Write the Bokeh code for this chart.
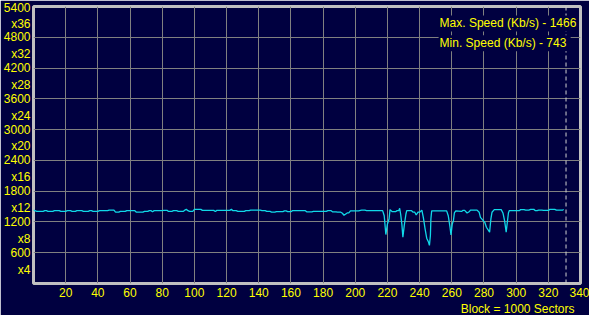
from bokeh.plotting import figure
from bokeh.models import FixedTicker, Span, Label, Title, Range1d
from bokeh.embed import file_html
from bokeh.resources import INLINE

# ---- data ----
sectors = [0, 2, 6, 7, 8, 9, 12, 13, 16, 17, 20, 21, 23, 24, 26, 27, 30, 31, 34, 35, 36, 37, 40, 41, 46,
           47, 50, 51, 53, 54, 57, 58, 63, 64, 68, 69, 71, 72, 73, 74, 75, 80, 81, 83, 84, 86, 87, 89,
           90, 93, 94, 95, 96, 97, 99, 100, 104, 105, 112, 113, 114, 122, 123, 124, 126, 127, 131, 132,
           134, 135, 141, 142, 144, 145, 147, 148, 150, 151, 155, 156, 157, 158, 160, 161, 169, 170, 173,
           174, 182, 183, 185, 186, 188, 189, 191, 192, 193, 195, 196, 197, 202, 204, 206, 207, 217,
           218, 219, 220, 221, 221.6, 223, 225, 226, 227, 227.6, 228.2, 229, 229.6, 230.5, 231.5, 232,
           235, 236, 237, 237.9, 239, 240, 241.4, 242.3, 243.4, 244.4, 245.5, 246.1, 246.7, 247, 247.5,
           256.8, 257.8, 258.9, 259.5, 260.3, 261, 261.6, 262.5, 266, 267, 268, 269.5, 271, 271.6, 275.7,
           277, 277.8, 280.5, 281.5, 283.5, 284.3, 285, 286.4, 290.7, 291.8, 292.8, 293.8, 294.4, 295.2,
           295.7, 301.9, 302.8, 304.9, 305.9, 307.9, 309, 311, 312, 313, 314, 316, 317, 320, 321, 324,
           325, 329, 329.5]
speed = [1430, 1405, 1405, 1420, 1420, 1405, 1405, 1420, 1420, 1405, 1405, 1420, 1420, 1405, 1405, 1420,
         1420, 1405, 1405, 1420, 1420, 1405, 1405, 1420, 1420,
         1430, 1430, 1390, 1390, 1405, 1405, 1420, 1420, 1390, 1390, 1405, 1405, 1420, 1420, 1400, 1420,
         1420, 1425, 1425, 1405, 1405, 1420, 1420,
         1405, 1405, 1430, 1445, 1420, 1405, 1405, 1445, 1445, 1425, 1425, 1405, 1425, 1425, 1445, 1420,
         1420, 1405, 1405, 1420,
         1420, 1430, 1430, 1420, 1420, 1405, 1405, 1390, 1390, 1400, 1400, 1415, 1415, 1400, 1400, 1420,
         1420, 1395, 1395,
         1405, 1405, 1420, 1420, 1395, 1395, 1390, 1390, 1370, 1330, 1375, 1375, 1415, 1415, 1430, 1430,
         1420, 1420,
         1322, 954, 1161, 1258, 1440, 1400, 1400, 1420, 1420, 1466, 1355, 1142, 903, 1142, 1355, 1420,
         1420, 1390, 1390, 1335, 1390, 1390, 1430, 1290, 1064, 884, 807, 743, 935, 1258, 1415,
         1415, 1322, 1097, 948, 1161, 1225, 1375, 1415, 1405, 1425, 1425, 1374, 1405, 1430, 1430,
         1390, 1290, 1193, 1097, 1000, 1258, 1390, 1440, 1440, 1375, 1225, 1000, 1161, 1375,
         1420, 1420, 1440, 1440, 1430, 1430, 1445, 1445, 1420, 1420, 1430, 1430, 1425, 1425, 1445, 1445,
         1430, 1430, 1445]

x_ticks = [20, 40, 60, 80, 100, 120, 140, 160, 180, 200, 220, 240, 260, 280, 300, 320, 340]
y_ticks = [600, 1200, 1800, 2400, 3000, 3600, 4200, 4800, 5400]
y_mult = ["x4", "x8", "x12", "x16", "x20", "x24", "x28", "x32", "x36"]
end_marker = 331
max_text = "Max. Speed (Kb/s) - 1466"
min_text = "Min.  Speed (Kb/s) - 743"
block_text = "Block = 1000 Sectors"

BG = "#000040"
YEL = "#ffff00"
FONT = "Liberation Sans"

p = figure(width=589, height=315, x_range=Range1d(0, 340), y_range=Range1d(0, 5400),
           output_backend="svg", toolbar_location=None,
           min_border_left=29, min_border_right=9, min_border_top=6, min_border_bottom=0)
p.background_fill_color = BG
p.border_fill_color = BG
p.outline_line_color = "#c0c0c0"
p.outline_line_width = 3

for ax in (p.xaxis[0], p.yaxis[0]):
    ax.axis_line_color = None
    ax.major_tick_line_color = None
    ax.minor_tick_line_color = None
    ax.major_tick_out = 0
    ax.major_tick_in = 0
    ax.minor_tick_out = 0
    ax.minor_tick_in = 0
    ax.major_label_text_color = YEL
    ax.major_label_text_font = FONT
    ax.major_label_text_font_size = "12px"

p.xaxis.ticker = FixedTicker(ticks=x_ticks)
p.xaxis.major_label_standoff = 4
p.yaxis.ticker = FixedTicker(ticks=y_ticks)
p.yaxis.major_label_standoff = 3
overrides = {t: " \n%d\n%s" % (t, m) for t, m in zip(y_ticks, y_mult)}
overrides[y_ticks[-1]] = "%d\n%s" % (y_ticks[-1], y_mult[-1])
p.yaxis.major_label_overrides = overrides

p.xgrid.ticker = FixedTicker(ticks=x_ticks)
p.ygrid.ticker = FixedTicker(ticks=y_ticks)
for g in (p.xgrid[0], p.ygrid[0]):
    g.grid_line_color = "#808080"
    g.grid_line_width = 1

p.line(sectors, speed, line_color="#10d8e8", line_width=1.3)

p.add_layout(Span(location=end_marker, dimension="height", line_color="#d0d0d0",
                  line_dash="4 3", line_width=1))

p.add_layout(Label(x=251.8, y=5071, text=max_text, text_align="left", text_baseline="middle",
                   text_color=YEL, text_font=FONT, text_font_size="12px",
                   background_fill_color=BG, padding=1))
p.add_layout(Label(x=251.8, y=4684, text=min_text, text_align="left", text_baseline="middle",
                   text_color=YEL, text_font=FONT, text_font_size="12px",
                   background_fill_color=BG, padding=1))

p.add_layout(Title(text=block_text, align="right", text_color=YEL, text_font=FONT,
                   text_font_size="12px", text_font_style="normal", standoff=0, offset=6),
             "below")

open("out.html", "w").write(file_html(p, INLINE))
